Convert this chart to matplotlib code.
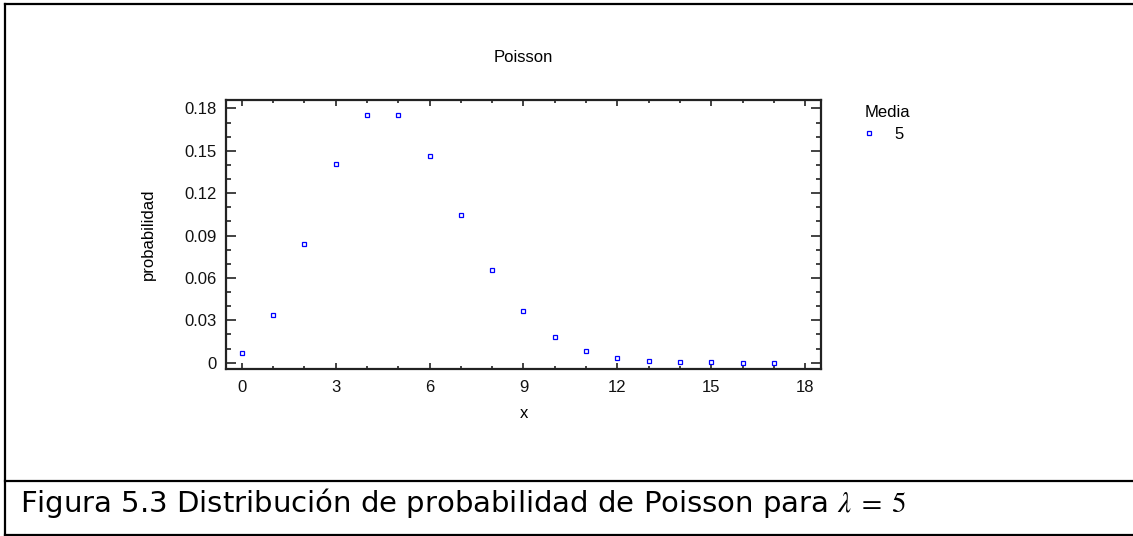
import matplotlib
matplotlib.use("Agg")
import matplotlib.pyplot as plt
from matplotlib.lines import Line2D
from matplotlib.ticker import MultipleLocator

# valores (Poisson, media 5)
x_vals = [0, 1, 2, 3, 4, 5, 6, 7, 8, 9, 10, 11, 12, 13, 14, 15, 16, 17]
prob = [0.0067, 0.0337, 0.0842, 0.1404, 0.1755, 0.1755, 0.1462, 0.1044,
        0.0653, 0.0363, 0.0181, 0.0082, 0.0034, 0.0013, 0.0005, 0.0002,
        0.0001, 0.0000]
serie = "5"
titulo_leyenda = "Media"
titulo = "Poisson"
pie = r"Figura 5.3 Distribución de probabilidad de Poisson para $\lambda\;=\;5$"

W, H = 1133, 536
plt.rcParams["font.family"] = ["Liberation Sans", "DejaVu Sans"]
plt.rcParams["mathtext.fontset"] = "stix"

fig = plt.figure(figsize=(W / 100, H / 100), dpi=100)
ax = fig.add_axes([226 / W, 1 - 369 / H, (821 - 226) / W, (369 - 100) / H])

ax.plot(x_vals, prob, linestyle="none", marker="s", markersize=3.5,
        markerfacecolor="white", markeredgecolor="#0000ff",
        markeredgewidth=0.9, label=serie)

ax.set_xlim(-0.5, 18.5)
ax.set_ylim(-0.0045, 0.186)
ax.xaxis.set_major_locator(MultipleLocator(3))
ax.xaxis.set_minor_locator(MultipleLocator(1))
ax.yaxis.set_major_locator(MultipleLocator(0.03))
ax.yaxis.set_minor_locator(MultipleLocator(0.01))
ax.yaxis.set_major_formatter(lambda v, p: "0" if abs(v) < 1e-9 else f"{v:.2f}")

for s in ax.spines.values():
    s.set_linewidth(1.6)
    s.set_color("#222222")

ax.tick_params(axis="both", which="both", direction="in", top=True, right=True,
               color="#222222", labelsize=12, labelcolor="#111111")
ax.tick_params(axis="x", which="major", length=4.5, width=1.2, pad=8)
ax.tick_params(axis="x", which="minor", length=2.5, width=1.2)
ax.tick_params(axis="y", which="major", length=7.5, width=1.2, pad=7)
ax.tick_params(axis="y", which="minor", length=3.8, width=1.2)

ax.set_xlabel("x", fontsize=12, labelpad=8)
ax.set_ylabel("probabilidad", fontsize=12, labelpad=20)

fig.text((226 + 821) / 2 / W, 1 - 58 / H, titulo, ha="center", va="center",
         fontsize=12)

leg = ax.legend(title=titulo_leyenda, loc="upper left",
                bbox_to_anchor=(856 / W, 1 - 97 / H),
                bbox_transform=fig.transFigure, frameon=False, fontsize=12,
                title_fontsize=12, borderpad=0, handlelength=0.5,
                handletextpad=1.3, labelspacing=0.4, alignment="left")

# marco y linea del pie
lc = "black"
fig.add_artist(Line2D([5 / W, 5 / W], [1 - 4 / H, 1 - 535 / H],
                      transform=fig.transFigure, color=lc, lw=1.6))
fig.add_artist(Line2D([5 / W, 1], [1 - 4 / H, 1 - 4 / H],
                      transform=fig.transFigure, color=lc, lw=1.6))
fig.add_artist(Line2D([5 / W, 1], [1 - 481 / H, 1 - 481 / H],
                      transform=fig.transFigure, color=lc, lw=1.6))
fig.add_artist(Line2D([5 / W, 1], [1 - 535 / H, 1 - 535 / H],
                      transform=fig.transFigure, color=lc, lw=1.6))

fig.text(20 / W, 1 - 512 / H, pie, ha="left", va="baseline", fontsize=21,
         family="DejaVu Sans")

fig.savefig("out.png", dpi=100)
